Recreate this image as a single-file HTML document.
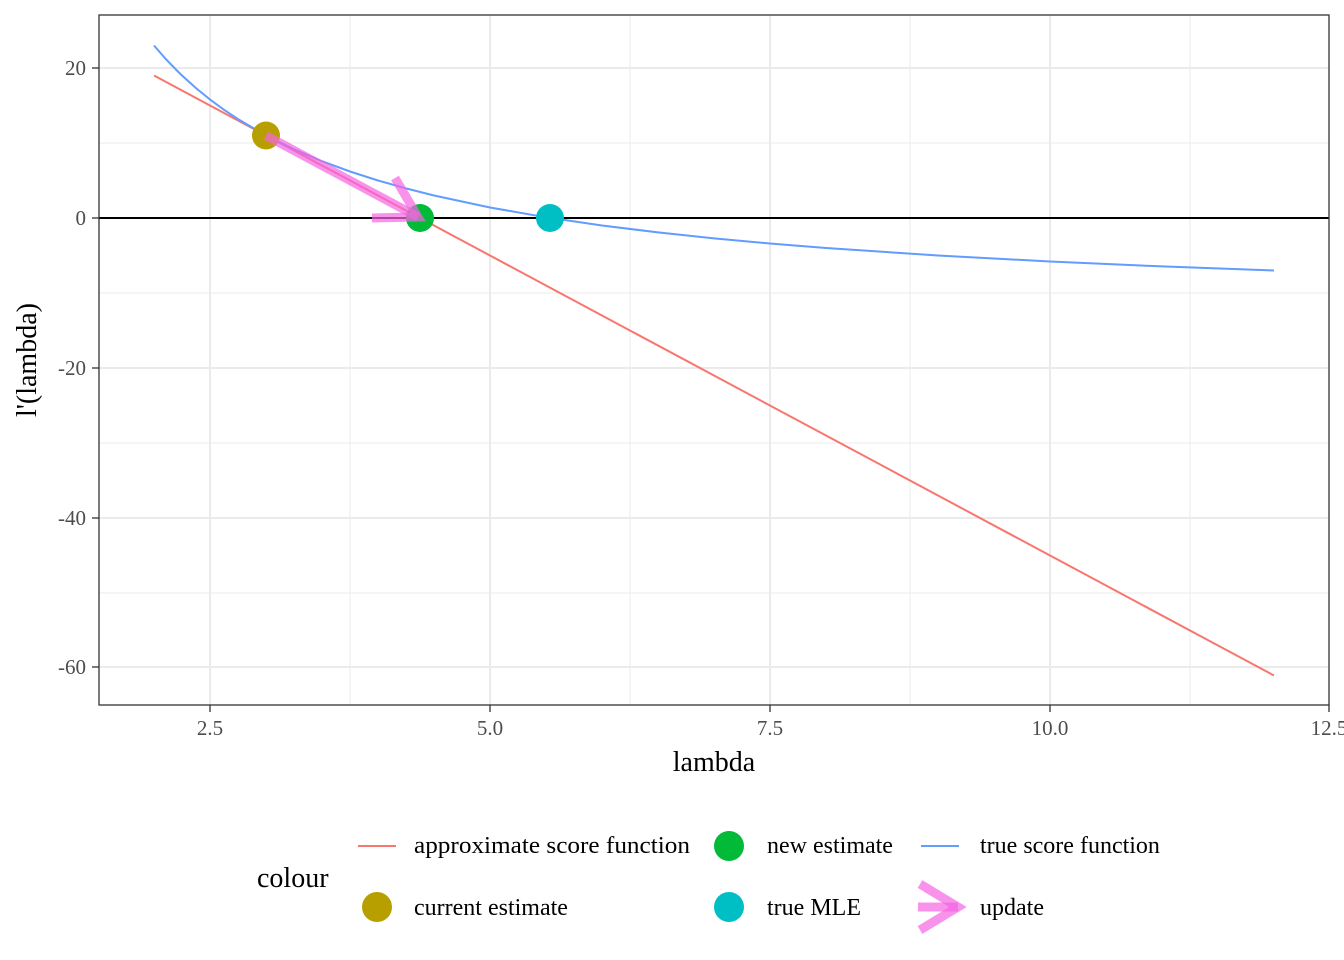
<!DOCTYPE html>
<html><head><meta charset="utf-8"><style>body{margin:0;background:#fff}svg{display:block}text{font-family:"Liberation Serif",serif}</style></head><body>
<svg width="1344" height="960" xmlns="http://www.w3.org/2000/svg">
<rect width="1344" height="960" fill="#fff"/>
<g stroke="#ebebeb" stroke-width="1">
<line x1="350" y1="15" x2="350" y2="705"/><line x1="630" y1="15" x2="630" y2="705"/><line x1="910" y1="15" x2="910" y2="705"/><line x1="1190" y1="15" x2="1190" y2="705"/>
<line x1="99" y1="143" x2="1329" y2="143"/><line x1="99" y1="293" x2="1329" y2="293"/><line x1="99" y1="443" x2="1329" y2="443"/><line x1="99" y1="593" x2="1329" y2="593"/>
</g>
<g stroke="#ebebeb" stroke-width="2">
<line x1="210" y1="15" x2="210" y2="705"/><line x1="490" y1="15" x2="490" y2="705"/><line x1="770" y1="15" x2="770" y2="705"/><line x1="1050" y1="15" x2="1050" y2="705"/>
<line x1="99" y1="68" x2="1329" y2="68"/><line x1="99" y1="368" x2="1329" y2="368"/><line x1="99" y1="518" x2="1329" y2="518"/><line x1="99" y1="667" x2="1329" y2="667"/>
</g>
<line x1="99" y1="218" x2="1329" y2="218" stroke="#000" stroke-width="2"/>
<line x1="154" y1="75.5" x2="1274" y2="675.5" stroke="#f8766d" stroke-width="2"/>
<polyline fill="none" stroke="#619cff" stroke-width="2" stroke-linejoin="round" points="154,45.5 165.2,58.4 176.4,70 182,75.5 196,88.1 210,99.5 224,109.8 238,119.1 266,135.5 294,149.3 322,161.2 350,171.5 378,180.5 406,188.4 434,195.5 490,207.5 546,217.3 602,225.5 658,232.4 714,238.4 770,243.5 826,248 938,255.5 1050,261.5 1162,266.4 1274,270.5"/>
<circle cx="266" cy="135.5" r="14" fill="#b79f00"/>
<circle cx="420" cy="218" r="14" fill="#00ba38"/>
<circle cx="550" cy="218" r="14" fill="#00bfc4"/>
<g stroke="#f564e3" stroke-opacity="0.7" stroke-width="9" fill="none">
<line x1="266" y1="135.5" x2="418" y2="217"/>
<polyline points="395,178 418,217 372,218"/>
</g>
<rect x="99" y="15" width="1230" height="690" fill="none" stroke="#333" stroke-width="1.3"/>
<g font-size="21" fill="#4d4d4d" text-anchor="end">
<text x="86" y="75">20</text><text x="86" y="225">0</text><text x="86" y="375">-20</text><text x="86" y="525">-40</text><text x="86" y="674">-60</text>
</g>
<g stroke="#333" stroke-width="1.3">
<line x1="92" y1="68" x2="99" y2="68"/><line x1="92" y1="218" x2="99" y2="218"/><line x1="92" y1="368" x2="99" y2="368"/><line x1="92" y1="518" x2="99" y2="518"/><line x1="92" y1="667" x2="99" y2="667"/>
<line x1="210" y1="705" x2="210" y2="712"/><line x1="490" y1="705" x2="490" y2="712"/><line x1="770" y1="705" x2="770" y2="712"/><line x1="1050" y1="705" x2="1050" y2="712"/><line x1="1329" y1="705" x2="1329" y2="712"/>
</g>
<g font-size="21" fill="#4d4d4d" text-anchor="middle">
<text x="210" y="735">2.5</text><text x="490" y="735">5.0</text><text x="770" y="735">7.5</text><text x="1050" y="735">10.0</text><text x="1329" y="735">12.5</text>
</g>
<text x="714" y="771" font-size="28" text-anchor="middle">lambda</text>
<text transform="translate(36,360) rotate(-90)" font-size="28" text-anchor="middle">l'(lambda)</text>
<text x="257" y="887" font-size="28">colour</text>
<line x1="358" y1="846" x2="396" y2="846" stroke="#f8766d" stroke-width="2"/>
<circle cx="377" cy="907" r="15" fill="#b79f00"/>
<circle cx="729" cy="846" r="15" fill="#00ba38"/>
<circle cx="729" cy="907" r="15" fill="#00bfc4"/>
<line x1="921" y1="846" x2="959" y2="846" stroke="#619cff" stroke-width="2"/>
<g stroke="#f564e3" stroke-opacity="0.7" stroke-width="9" fill="none">
<line x1="918" y1="907" x2="958" y2="907"/><polyline points="920,884 958,907 920,930"/>
</g>
<g font-size="24" fill="#000">
<text x="414" y="853" textLength="276" lengthAdjust="spacingAndGlyphs">approximate score function</text><text x="414" y="915">current estimate</text>
<text x="767" y="853">new estimate</text><text x="767" y="915">true MLE</text>
<text x="980" y="853">true score function</text><text x="980" y="915">update</text>
</g>
</svg>
</body></html>
